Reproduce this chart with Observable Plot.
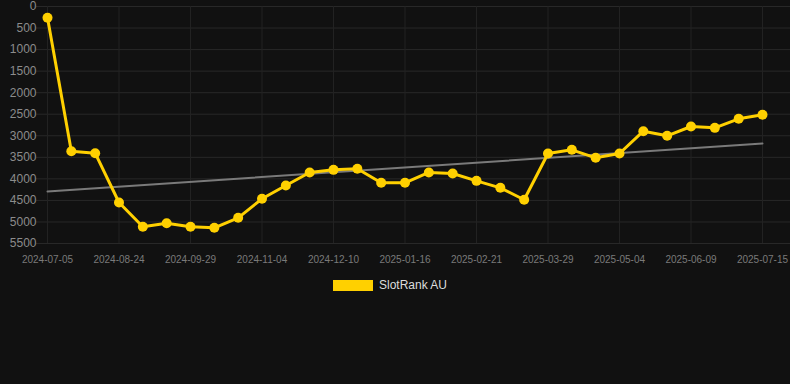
<!DOCTYPE html>
<html><head><meta charset="utf-8">
<script src="https://cdn.jsdelivr.net/npm/d3@7"></script>
<script src="https://cdn.jsdelivr.net/npm/@observablehq/plot@0.6"></script>
<style>
html,body{margin:0;padding:0;background:#111111;}
#chart{width:790px;}
.legend{width:780px;display:flex;justify-content:center;align-items:center;margin-top:8px;font:12px "Liberation Sans",Arial,sans-serif;color:#dddddd;}
.sw{width:40px;height:11px;background:#FFD000;margin-right:6px;}
</style></head><body>
<div id="chart"></div>
<div class="legend"><div class="sw"></div><span>SlotRank AU</span></div>
<script>
const dates = ["2024-07-05","2024-07-22","2024-08-07","2024-08-24","2024-09-05","2024-09-17","2024-09-29","2024-10-11","2024-10-23","2024-11-04","2024-11-16","2024-11-28","2024-12-10","2024-12-22","2025-01-03","2025-01-16","2025-01-28","2025-02-09","2025-02-21","2025-03-05","2025-03-17","2025-03-29","2025-04-10","2025-04-22","2025-05-04","2025-05-16","2025-05-28","2025-06-09","2025-06-21","2025-07-03","2025-07-15"];
const ranks = [260,3358,3404,4549,5113,5028,5113,5136,4904,4463,4154,3852,3791,3767,4092,4092,3852,3876,4046,4208,4485,3411,3326,3512,3411,2893,3001,2785,2816,2607,2514];
const xTickIdx = [0,3,6,9,12,15,18,21,24,27,30];
const yTicks = [0,500,1000,1500,2000,2500,3000,3500,4000,4500,5000,5500];
const data = dates.map((d,i)=>({i, date:d, rank:ranks[i]}));
const font = '"Liberation Sans", Arial, sans-serif';
const chart = Plot.plot({
  width:790, height:270, marginLeft:47, marginRight:28, marginTop:6, marginBottom:27,
  style:{background:"#111111", fontFamily:font, overflow:"visible"},
  x:{type:"linear", domain:[0,30], label:null},
  y:{domain:[0,5500], reverse:true, label:null},
  marks:[
    Plot.gridY(yTicks,{stroke:"#282828", strokeOpacity:1, insetLeft:-11, insetRight:-28}),
    Plot.gridX(xTickIdx,{stroke:"#222222", strokeOpacity:1}),
    Plot.axisY(yTicks,{tickSize:0, tickPadding:11, fontSize:12, fill:"#8c8c8c", tickFormat:d=>String(d), label:null}),
    Plot.axisX(xTickIdx,{tickSize:0, tickPadding:12, fontSize:10, fill:"#7a7a7a", tickFormat:i=>dates[i], label:null}),
    Plot.linearRegressionY(data,{x:"i", y:"rank", stroke:"#7a7a7a", strokeWidth:2, ci:0}),
    Plot.line(data,{x:"i", y:"rank", stroke:"#FFD000", strokeWidth:3}),
    Plot.dot(data,{x:"i", y:"rank", r:5, fill:"#FFD000"})
  ]
});
document.getElementById("chart").appendChild(chart);
</script>
</body></html>
